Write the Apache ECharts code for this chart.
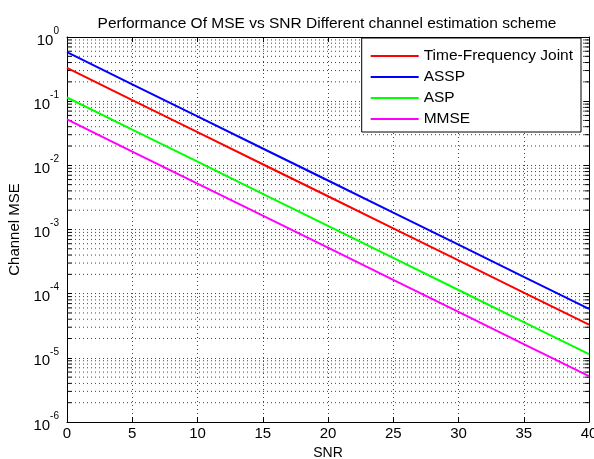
<!DOCTYPE html>
<html>
<head>
<meta charset="utf-8">
<script src="https://cdn.jsdelivr.net/npm/echarts@6/dist/echarts.min.js"></script>
<style>
    html, body { margin: 0; padding: 0; background: #fff; }
    #chart { width: 594px; height: 459px; }
</style>
</head>
<body>
<div id="chart"></div>
<script>
    // SNR points (dB)
    const snr = [0, 5, 10, 15, 20, 25, 30, 35, 40]
    // channel MSE
    const tfJoint = [0.33, 0.104, 0.033, 0.0104, 0.0033, 0.00104, 3.3e-4, 1.04e-4, 3.3e-5]
    const assp = [0.58, 0.183, 0.058, 0.0183, 0.0058, 0.00183, 5.8e-4, 1.83e-4, 5.8e-5]
    const asp = [0.114, 0.036, 0.0114, 0.0036, 0.00114, 3.6e-4, 1.14e-4, 3.6e-5, 1.14e-5]
    const mmse = [0.052, 0.0164, 0.0052, 0.00164, 5.2e-4, 1.64e-4, 5.2e-5, 1.64e-5, 5.2e-6]
    const names = ['Time-Frequency Joint', 'ASSP', 'ASP', 'MMSE']
    const colors = ['#ff0000', '#0000ff', '#00ff00', '#ff00ff']

    const font = 'Liberation Sans, Arial, sans-serif'
    const xMin = 0, xMax = 40

    // minor log grid (2..9 in every decade), drawn as broken segments across the plot,
    // plus the short minor tick marks on the left and right frame
    let minorGrid = []
    let minorTicks = []
    const tickLen = 0.35
    for (let e = -6; e < 0; e++) {
        for (let m = 2; m <= 9; m++) {
            let v = m * Math.pow(10, e)
            minorGrid.push([xMin, v], [xMax, v], '-')
            minorTicks.push([xMin, v], [xMin + tickLen, v], '-', [xMax - tickLen, v], [xMax, v], '-')
        }
    }

    const dotted = {color: '#444', width: 1, type: [1, 3]}

    function pairs(ys) {
        return snr.map((x, i) => [x, ys[i]])
    }

    function lineSeries(name, ys, color) {
        return {
            name: name,
            type: 'line',
            data: pairs(ys),
            symbol: 'none',
            showSymbol: false,
            lineStyle: {color: color, width: 2},
            itemStyle: {color: color},
            z: 3
        }
    }

    let chart = echarts.init(document.getElementById('chart'))
    let option = {
        animation: false,
        backgroundColor: '#fff',
        title: {
            text: 'Performance Of MSE vs SNR Different channel estimation scheme',
            left: 322,
            top: 11,
            textAlign: 'center',
            textStyle: {fontFamily: font, fontSize: 15.5, fontWeight: 'normal', color: '#000'}
        },
        grid: {left: 67, right: 5, top: 37, bottom: 37, containLabel: false, outerBoundsMode: 'none'},
        legend: {
            data: names,
            orient: 'vertical',
            right: 13,
            top: 38,
            icon: 'rect',
            itemWidth: 48,
            itemHeight: 2,
            itemGap: 5,
            padding: [10, 8, 5, 9],
            backgroundColor: '#fff',
            borderColor: '#000',
            borderWidth: 1,
            borderRadius: 0,
            textStyle: {fontFamily: font, fontSize: 15.5, lineHeight: 14, color: '#000'}
        },
        xAxis: [
            {
                type: 'value',
                min: xMin,
                max: xMax,
                interval: 5,
                name: 'SNR',
                nameLocation: 'middle',
                nameGap: 24,
                nameTextStyle: {fontFamily: font, fontSize: 14, color: '#000'},
                axisLine: {show: true, onZero: false, lineStyle: {color: '#000'}},
                axisTick: {inside: true, length: 5, lineStyle: {color: '#000'}},
                axisLabel: {fontFamily: font, fontSize: 15, color: '#000', margin: 4},
                splitLine: {show: true, lineStyle: dotted}
            },
            {
                type: 'value',
                position: 'top',
                min: xMin,
                max: xMax,
                interval: 5,
                axisLine: {show: true, onZero: false, lineStyle: {color: '#000'}},
                axisTick: {inside: true, length: 5, lineStyle: {color: '#000'}},
                axisLabel: {show: false},
                splitLine: {show: false}
            }
        ],
        yAxis: [
            {
                type: 'log',
                logBase: 10,
                min: 1e-6,
                max: 1,
                splitNumber: 6,
                name: 'Channel MSE',
                nameLocation: 'middle',
                nameGap: 42,
                nameTextStyle: {fontFamily: font, fontSize: 15, color: '#000'},
                axisLine: {show: true, onZero: false, lineStyle: {color: '#000'}},
                axisTick: {inside: true, length: 5, lineStyle: {color: '#000'}},
                axisLabel: {
                    margin: 8,
                    formatter: function (v) {
                        return '{b|10}{s|' + Math.round(Math.log10(v)) + '}'
                    },
                    rich: {
                        b: {fontFamily: font, fontSize: 15, color: '#000', lineHeight: 22, verticalAlign: 'bottom'},
                        s: {fontFamily: font, fontSize: 10, color: '#000', verticalAlign: 'top'}
                    }
                },
                splitLine: {show: true, lineStyle: dotted}
            },
            {
                type: 'log',
                logBase: 10,
                position: 'right',
                min: 1e-6,
                max: 1,
                splitNumber: 6,
                axisLine: {show: true, onZero: false, lineStyle: {color: '#000'}},
                axisTick: {inside: true, length: 5, lineStyle: {color: '#000'}},
                axisLabel: {show: false},
                splitLine: {show: false}
            }
        ],
        series: [
            {
                name: 'minor-grid',
                type: 'line',
                data: minorGrid,
                symbol: 'none',
                silent: true,
                connectNulls: false,
                lineStyle: dotted,
                z: 1
            },
            {
                name: 'minor-ticks',
                type: 'line',
                data: minorTicks,
                symbol: 'none',
                silent: true,
                connectNulls: false,
                lineStyle: {color: '#000', width: 1},
                z: 2
            },
            lineSeries(names[0], tfJoint, colors[0]),
            lineSeries(names[1], assp, colors[1]),
            lineSeries(names[2], asp, colors[2]),
            lineSeries(names[3], mmse, colors[3])
        ]
    }
    chart.setOption(option)
</script>
</body>
</html>
